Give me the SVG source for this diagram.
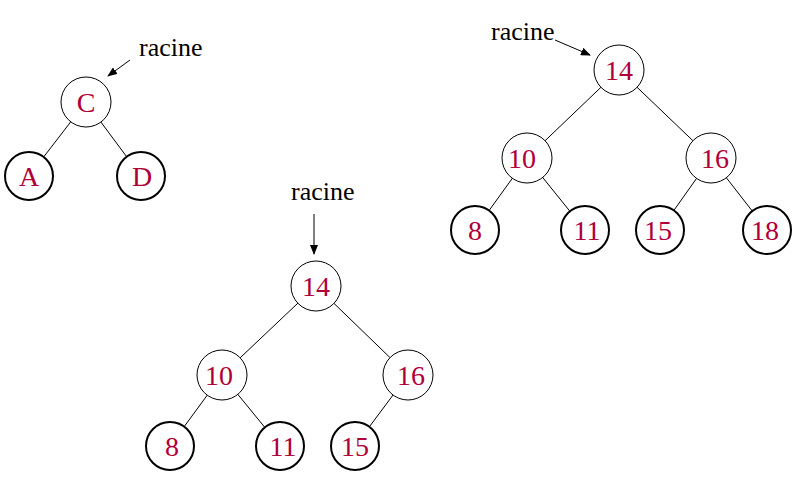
<svg xmlns="http://www.w3.org/2000/svg" width="799" height="483" viewBox="0 0 799 483">
<style>
.n{fill:#fff;stroke:#000;stroke-width:1}
.l{fill:#fff;stroke:#000;stroke-width:2}
.t{font-family:"Liberation Serif",serif;font-size:28px;fill:#b0003a;text-anchor:middle}
.r{font-family:"Liberation Serif",serif;font-size:26px;fill:#000}
.e{stroke:#000;stroke-width:1;fill:none}
</style>
<defs><marker id="a" markerWidth="10" markerHeight="8" refX="9" refY="4" orient="auto" markerUnits="userSpaceOnUse"><path d="M0,0 L10,4 L0,8 z" fill="#000"/></marker></defs>
<g id="connectors">
<line class="e" x1="86" y1="102" x2="29" y2="176"/><line class="e" x1="86" y1="102" x2="141" y2="176"/>
<line class="e" x1="619" y1="70" x2="527" y2="158"/><line class="e" x1="619" y1="70" x2="711" y2="158"/>
<line class="e" x1="527" y1="158" x2="475" y2="230"/><line class="e" x1="527" y1="158" x2="585" y2="230"/>
<line class="e" x1="711" y1="158" x2="660" y2="230"/><line class="e" x1="711" y1="158" x2="767" y2="230"/>
<line class="e" x1="316" y1="286" x2="222" y2="375"/><line class="e" x1="316" y1="286" x2="408" y2="375"/>
<line class="e" x1="222" y1="375" x2="170" y2="446"/><line class="e" x1="222" y1="375" x2="280" y2="446"/>
<line class="e" x1="408" y1="375" x2="355" y2="446"/>
<line class="e" x1="130" y1="60" x2="108" y2="76" marker-end="url(#a)"/>
<line class="e" x1="555" y1="40" x2="590" y2="55" marker-end="url(#a)"/>
<line class="e" x1="314" y1="214" x2="314" y2="254" marker-end="url(#a)"/>
</g>
<g id="labels">
<text class="r" x="139" y="56">racine</text>
<text class="r" x="491" y="40">racine</text>
<text class="r" x="291" y="200">racine</text>
</g>
<g id="nC"><circle class="n" cx="86" cy="102" r="25"/><text class="t" x="86" y="112">C</text></g>
<g id="nA"><circle class="l" cx="29" cy="176" r="24"/><text class="t" x="29" y="186">A</text></g>
<g id="nD"><circle class="l" cx="141" cy="176" r="24"/><text class="t" x="142" y="186">D</text></g>
<g id="r14"><circle class="n" cx="619" cy="70" r="25"/><text class="t" x="619" y="80">14</text></g>
<g id="r10"><circle class="n" cx="527" cy="158" r="25"/><text class="t" x="522" y="168">10</text></g>
<g id="r16"><circle class="n" cx="711" cy="158" r="25"/><text class="t" x="715" y="168">16</text></g>
<g id="r8"><circle class="l" cx="475" cy="230" r="24"/><text class="t" x="475" y="240">8</text></g>
<g id="r11"><circle class="l" cx="585" cy="230" r="24"/><text class="t" x="587" y="240">11</text></g>
<g id="r15"><circle class="l" cx="660" cy="230" r="24"/><text class="t" x="658" y="240">15</text></g>
<g id="r18"><circle class="l" cx="767" cy="230" r="24"/><text class="t" x="765" y="240">18</text></g>
<g id="b14"><circle class="n" cx="316" cy="286" r="25"/><text class="t" x="316" y="296">14</text></g>
<g id="b10"><circle class="n" cx="222" cy="375" r="25"/><text class="t" x="219" y="385">10</text></g>
<g id="b16"><circle class="n" cx="408" cy="375" r="25"/><text class="t" x="411" y="385">16</text></g>
<g id="b8"><circle class="l" cx="170" cy="446" r="24"/><text class="t" x="172" y="456">8</text></g>
<g id="b11"><circle class="l" cx="280" cy="446" r="24"/><text class="t" x="283" y="456">11</text></g>
<g id="b15"><circle class="l" cx="355" cy="446" r="24"/><text class="t" x="355" y="456">15</text></g>
</svg>
